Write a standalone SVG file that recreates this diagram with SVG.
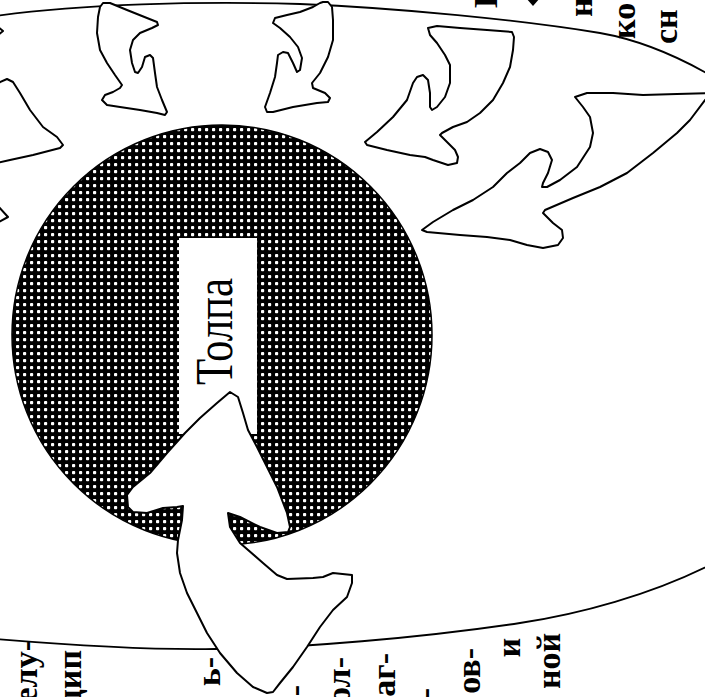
<svg xmlns="http://www.w3.org/2000/svg" width="705" height="697" viewBox="0 0 705 697">
<defs>
<pattern id="dots" width="7" height="7" patternUnits="userSpaceOnUse">
<rect width="7" height="7" fill="#000"/>
<rect x="2" y="2" width="3.2" height="3.2" rx="0.9" fill="#fff"/>
</pattern>
<style>
.o{fill:#fff;stroke:#000;stroke-width:2;stroke-linejoin:round}
.e{fill:none;stroke:#000;stroke-width:1.8}
.t{font-family:"Liberation Serif","Times New Roman",serif;font-size:34px;font-weight:bold;fill:#000}
.lbl{font-family:"Liberation Serif","Times New Roman",serif;font-size:52px;fill:#000}
</style>
</defs>
<rect width="705" height="697" fill="#fff"/>
<g id="boundary">
<path class="e" d="M -5 16 C 80 4, 200 1, 300 4 C 400 8, 520 20, 600 33 C 640 40, 675 55, 710 75"/>
<path class="e" d="M -5 639 C 80 646, 160 650, 215 649 C 300 648, 420 638, 520 623 C 580 614, 650 595, 710 565"/>
</g>
<g id="crowd">
<circle cx="222" cy="335" r="210" fill="url(#dots)" stroke="#000" stroke-width="1.5"/>
<rect x="179" y="238" width="78" height="196" fill="#fff"/>
<text class="lbl" transform="translate(232,385) rotate(-90)" textLength="107" lengthAdjust="spacingAndGlyphs">Толпа</text>
</g>
<g id="connectors">
<path class="o" d="M -3 26 L 3 31 L -3 36"/>
<path class="o" d="M -3 85 L 0 82 L 7 79 L 13 82 L 20 93 L 30 110 L 43 127 L 57 137 L 63 145 L 60 148 L 33 155 L 10 160 L -3 163 Z"/>
<path class="o" d="M -3 205 L 8 217 L -3 223"/>
<path class="o" d="M 103 3 L 110 3 L 127 10 L 147 18 L 157 22 L 158 25 L 152 28 L 140 33 L 133 40 L 130 50 L 132 63 L 135 72 L 138 73 L 142 67 L 145 57 L 150 55 L 153 58 L 155 73 L 157 87 L 162 100 L 167 112 L 165 115 L 157 113 L 140 110 L 120 107 L 107 105 L 102 100 L 105 95 L 113 92 L 120 88 L 122 85 L 115 75 L 107 63 L 100 50 L 97 33 L 98 17 L 100 7 Z"/>
<path class="o" d="M 323 2 L 328 2 L 332 7 L 333 20 L 333 40 L 328 57 L 320 73 L 312 83 L 313 88 L 325 93 L 330 98 L 328 102 L 317 103 L 293 107 L 273 112 L 267 112 L 265 107 L 270 93 L 275 77 L 277 63 L 278 55 L 283 52 L 288 53 L 293 63 L 297 72 L 300 70 L 302 58 L 298 47 L 290 37 L 280 28 L 273 23 L 275 18 L 287 15 L 300 12 L 313 7 L 320 3 Z"/>
<path class="o" d="M 428 28 L 437 26 L 460 28 L 487 30 L 512 32 L 514 37 L 513 50 L 510 67 L 503 83 L 493 100 L 480 113 L 467 122 L 453 127 L 442 133 L 440 135 L 447 142 L 455 150 L 458 157 L 457 163 L 448 165 L 433 160 L 425 157 L 410 155 L 387 150 L 367 145 L 365 142 L 377 132 L 393 117 L 407 100 L 413 83 L 417 77 L 423 75 L 428 80 L 430 93 L 430 107 L 432 110 L 437 107 L 445 97 L 450 83 L 450 65 L 445 55 L 437 43 L 430 35 Z"/>
<path class="o" d="M 575 97 L 587 93 L 613 93 L 643 95 L 677 94 L 712 93 L 712 95 L 705 100 L 690 120 L 677 133 L 653 153 L 627 173 L 600 187 L 573 198 L 545 210 L 543 213 L 553 223 L 562 230 L 563 238 L 558 245 L 543 248 L 527 245 L 510 240 L 487 237 L 460 235 L 427 232 L 422 230 L 433 222 L 453 210 L 473 200 L 493 187 L 507 173 L 520 163 L 530 153 L 540 149 L 548 152 L 552 160 L 548 173 L 543 183 L 542 187 L 547 187 L 560 180 L 577 167 L 590 147 L 593 133 L 590 117 L 583 107 Z"/>
<path class="o" d="M 230 392 L 238 397 L 243 413 L 248 430 L 257 447 L 267 467 L 277 487 L 287 513 L 290 527 L 288 532 L 277 533 L 260 527 L 240 517 L 228 513 L 230 527 L 240 543 L 263 563 L 277 575 L 287 579 L 313 578 L 323 577 L 333 573 L 352 575 L 352 583 L 347 597 L 333 610 L 320 627 L 307 647 L 293 667 L 280 683 L 273 692 L 267 693 L 253 687 L 237 673 L 220 653 L 207 633 L 197 613 L 187 593 L 180 573 L 177 553 L 178 540 L 182 520 L 183 506 L 177 507 L 163 508 L 147 513 L 133 512 L 128 507 L 127 495 L 133 487 L 150 473 L 167 453 L 185 433 L 200 418 L 217 403 Z"/>
</g>
<g id="page-text">
<text class="t" text-anchor="end" transform="translate(37,640) rotate(-90)">елу-</text>
<text class="t" text-anchor="end" transform="translate(81,650) rotate(-90)">цип</text>
<text class="t" text-anchor="end" transform="translate(220,657) rotate(-90)">ь-</text>
<text class="t" text-anchor="end" transform="translate(306,685) rotate(-90)">-</text>
<text class="t" text-anchor="end" transform="translate(350,657) rotate(-90)">ол-</text>
<text class="t" text-anchor="end" transform="translate(395,653) rotate(-90)">аг-</text>
<text class="t" text-anchor="end" transform="translate(436,688) rotate(-90)">-</text>
<text class="t" text-anchor="end" transform="translate(480,648) rotate(-90)">ов-</text>
<text class="t" text-anchor="end" transform="translate(520,638) rotate(-90)">и</text>
<text class="t" transform="translate(560,689) rotate(-90)">ной</text>
<text class="t" transform="translate(497,8) rotate(-90)">Е</text>
<text class="t" transform="translate(592,17) rotate(-90)">н</text>
<text class="t" transform="translate(635,39) rotate(-90)">ко</text>
<text class="t" transform="translate(677,44) rotate(-90)">сн</text>
<polygon points="526,-2 533,6 540,-2" fill="#000"/>
</g>
</svg>
